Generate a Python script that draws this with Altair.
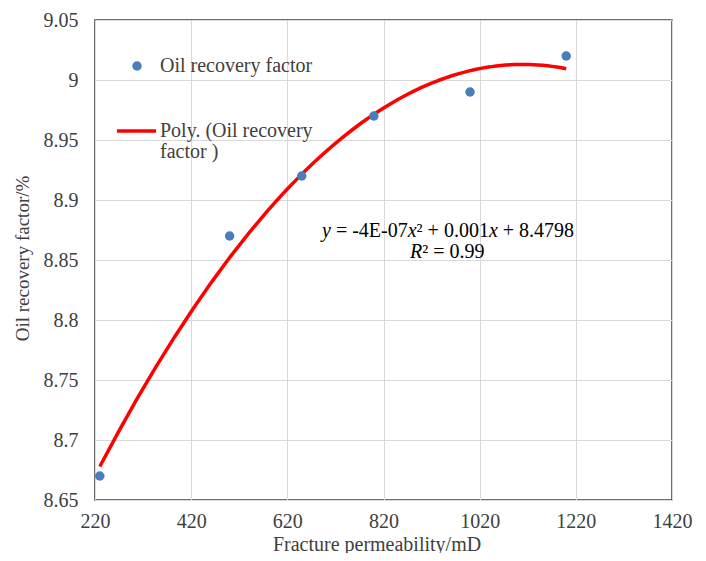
import altair as alt
import pandas as pd

# Data
permeability = [230, 500, 650, 800, 1000, 1200]
recovery = [8.67, 8.87, 8.92, 8.97, 8.99, 9.02]

x_ticks = [220, 420, 620, 820, 1020, 1220, 1420]
y_ticks = [8.65, 8.7, 8.75, 8.8, 8.85, 8.9, 8.95, 9.0, 9.05]

legend_point_label = "Oil recovery factor"
legend_line_label = ["Poly. (Oil recovery", "factor )"]
x_title = "Fracture permeability/mD"
y_title = "Oil recovery factor/%"

FONT = "Liberation Serif"
FS = 20
W, H = 577, 480

df = pd.DataFrame({"x": permeability, "y": recovery})

xs = alt.X("x:Q", scale=alt.Scale(domain=[220, 1420], nice=False, zero=False),
           axis=alt.Axis(values=x_ticks, title=x_title, format="d", grid=True,
                         gridColor="#d9d9d9", ticks=False, tickSize=0, domain=False,
                         labelPadding=11, labelFont=FONT, labelFontSize=FS,
                         labelColor="#404040", titleFont=FONT, titleFontSize=FS,
                         titleFontWeight="normal", titleColor="#404040",
                         titleX=W / 2 - 7, titleY=44,
                         titleBaseline="middle", titleAlign="center",
                         labelFlush=False, labelOverlap=False))
ys = alt.Y("y:Q", scale=alt.Scale(domain=[8.65, 9.05], nice=False, zero=False),
           axis=alt.Axis(values=y_ticks, title=y_title, format=".2~f", grid=True,
                         gridColor="#d9d9d9", ticks=False, tickSize=0, domain=False,
                         labelPadding=17, labelFont=FONT, labelFontSize=FS,
                         labelColor="#404040", titleFont=FONT, titleFontSize=FS - 1,
                         titleFontWeight="normal", titleColor="#404040",
                         titleAngle=270, titleX=-73, titleY=238,
                         titleBaseline="middle", titleAlign="center",
                         labelFlush=False, labelOverlap=False))

base = alt.Chart(df)

points = base.mark_circle(size=90, color="#4a7ebb", opacity=1).encode(x=xs, y=ys)

trend = base.transform_regression("x", "y", method="poly", order=2).mark_line(
    color="#ff0000", strokeWidth=3.5).encode(x=xs, y=ys)

# Legend (manual, inside plot)
leg_pt = alt.Chart(pd.DataFrame({"l": [legend_point_label]})).mark_circle(
    size=90, color="#4a7ebb", opacity=1).encode(x=alt.value(42), y=alt.value(46))
leg_pt_txt = alt.Chart(pd.DataFrame({"l": [legend_point_label]})).mark_text(
    font=FONT, fontSize=FS, align="left", baseline="middle", color="#404040").encode(
    text="l:N", x=alt.value(65), y=alt.value(46))
leg_line = alt.Chart(pd.DataFrame({"l": [legend_line_label[0]]})).mark_rule(
    color="#ff0000", strokeWidth=3.5).encode(x=alt.value(22), x2=alt.value(61), y=alt.value(111))
leg_line_txt1 = alt.Chart(pd.DataFrame({"l": [legend_line_label[0]]})).mark_text(
    font=FONT, fontSize=FS, align="left", baseline="middle", color="#404040").encode(
    text="l:N", x=alt.value(65), y=alt.value(111))
leg_line_txt2 = alt.Chart(pd.DataFrame({"l": [legend_line_label[1]]})).mark_text(
    font=FONT, fontSize=FS, align="left", baseline="middle", color="#404040").encode(
    text="l:N", x=alt.value(65), y=alt.value(132))

# Equation annotation, split into segments for italics
eq_segments = ["y", "= -4E-07", "x", "\u00b2 + 0.001", "x", "+ 8.4798"]
eq_italic = [True, False, True, False, True, False]
eq_offsets = [0, 13.9, 85.7, 94.6, 166.9, 180.7]
eq_start = 227
eq_y = 211

r2_segments = ["R", "\u00b2 = 0.99"]
r2_italic = [True, False]
r2_offsets = [0, 12.2]
r2_start = 315
r2_y = 232

eq_layers = []
for seg, it, off in zip(eq_segments, eq_italic, eq_offsets):
    eq_layers.append(alt.Chart(pd.DataFrame({"t": [seg]})).mark_text(
        font=FONT, fontSize=FS, fontStyle="italic" if it else "normal",
        align="left", baseline="middle", color="#000000").encode(
        text="t:N", x=alt.value(eq_start + off), y=alt.value(eq_y)))
for seg, it, off in zip(r2_segments, r2_italic, r2_offsets):
    eq_layers.append(alt.Chart(pd.DataFrame({"t": [seg]})).mark_text(
        font=FONT, fontSize=FS, fontStyle="italic" if it else "normal",
        align="left", baseline="middle", color="#000000").encode(
        text="t:N", x=alt.value(r2_start + off), y=alt.value(r2_y)))

chart = alt.layer(
    trend, points, leg_pt, leg_pt_txt, leg_line, leg_line_txt1, leg_line_txt2, *eq_layers
).properties(
    width=W, height=H,
    autosize=alt.AutoSizeParams(type="none"),
    padding={"left": 87, "top": 12, "right": 26, "bottom": 53},
    background="white",
).configure_view(stroke="#404040", strokeWidth=1.5).configure_axis(
    labelFont=FONT, titleFont=FONT, labelFontSize=FS
).configure_text(font=FONT)

chart.save("out.html", embed_options={"renderer": "svg", "actions": False})
